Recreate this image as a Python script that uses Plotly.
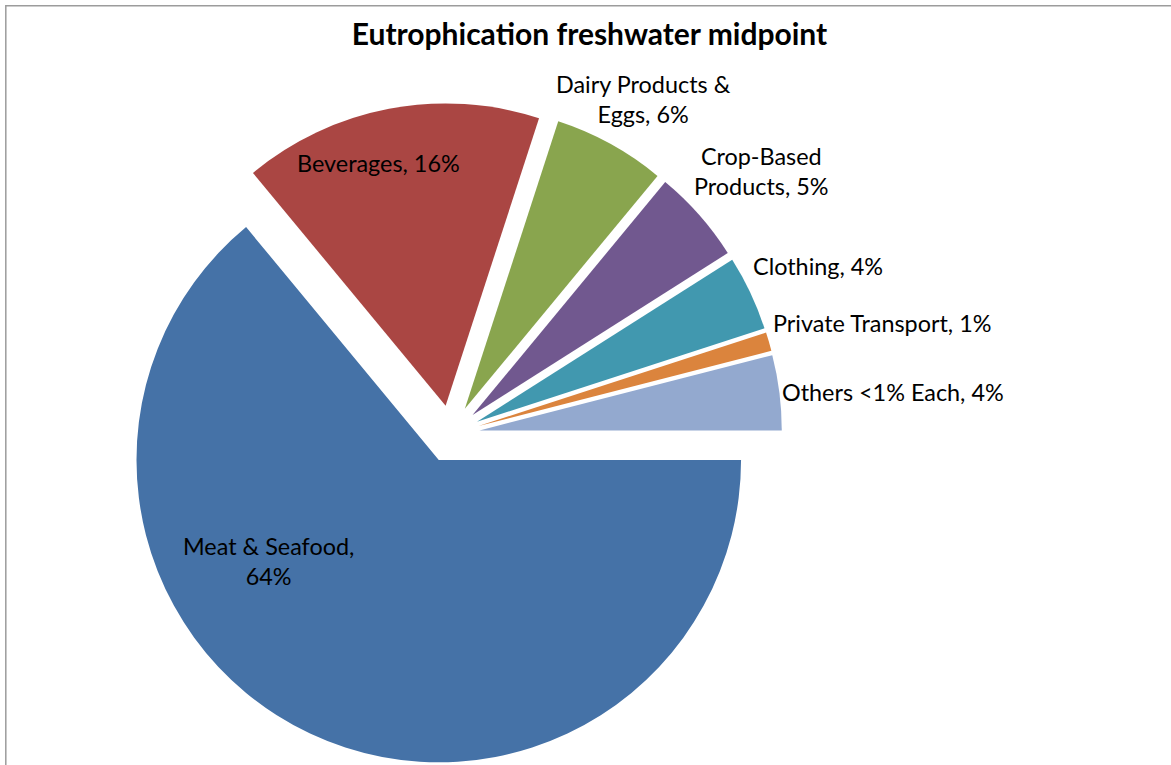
import plotly.graph_objects as go

# Share of freshwater eutrophication impact by consumption category (%)
categories = [
    "Meat & Seafood",
    "Beverages",
    "Dairy Products & Eggs",
    "Crop-Based Products",
    "Clothing",
    "Private Transport",
    "Others <1% Each",
]
shares = [64, 16, 6, 5, 4, 1, 4]
colors = ["#4572A7", "#AA4643", "#89A54E", "#71588F", "#4198AF", "#DB843D", "#93A9CF"]

# How each label wraps onto lines
label_layout = {
    "Meat & Seafood": "Meat & Seafood,<br>{v}%",
    "Dairy Products & Eggs": "Dairy Products &<br>Eggs, {v}%",
    "Crop-Based Products": "Crop-Based<br>Products, {v}%",
}
# Label anchor points in pixels (centre of the text block)
label_pos = [
    (268, 561),
    (378, 163),
    (643, 99),
    (761, 171),
    (818, 266),
    (882, 323),
    (893, 392),
]

W, H = 1171, 765
FONT = "Lato"


def px(x):
    return x / W


def py(y):
    return 1 - y / H


def label_text(name, value):
    fmt = label_layout.get(name, "{n}, {v}%")
    return fmt.format(n=name.replace("<", "&lt;"), v=value)


# Pie box: centred on (cx, cy), half-size includes the explosion offset
cx, cy, half = 451, 434, 331

fig = go.Figure(
    go.Pie(
        labels=categories,
        values=shares,
        sort=False,
        direction="clockwise",
        rotation=90,
        pull=[0.095] * len(shares),
        marker=dict(colors=colors, line=dict(width=0)),
        textinfo="none",
        hoverinfo="label+percent",
        showlegend=False,
        domain=dict(x=[px(cx - half), px(cx + half)], y=[py(cy + half), py(cy - half)]),
    )
)

annotations = []
for name, value, (x, y) in zip(categories, shares, label_pos):
    annotations.append(
        dict(
            text=label_text(name, value),
            x=px(x),
            y=py(y),
            xref="paper",
            yref="paper",
            xanchor="center",
            yanchor="middle",
            align="center",
            showarrow=False,
            font=dict(family=FONT, size=23.4, color="#000000"),
        )
    )

fig.update_layout(
    width=W,
    height=H,
    margin=dict(l=0, r=0, t=0, b=0),
    paper_bgcolor="#ffffff",
    plot_bgcolor="#ffffff",
    title=dict(
        text="<b>Eutrophication freshwater midpoint</b>",
        x=px(589.5),
        xanchor="center",
        xref="paper",
        y=1 - 34 / H,
        yanchor="middle",
        yref="container",
        font=dict(family=FONT, size=30, color="#000000"),
    ),
    annotations=annotations,
    shapes=[
        dict(
            type="rect",
            xref="paper",
            yref="paper",
            x0=px(5.8),
            y0=py(H + 20),
            x1=px(W + 20),
            y1=py(5.8),
            line=dict(color="#9c9c9c", width=1.5),
            fillcolor="rgba(0,0,0,0)",
            layer="above",
        )
    ],
)

fig.write_html("out.html")
